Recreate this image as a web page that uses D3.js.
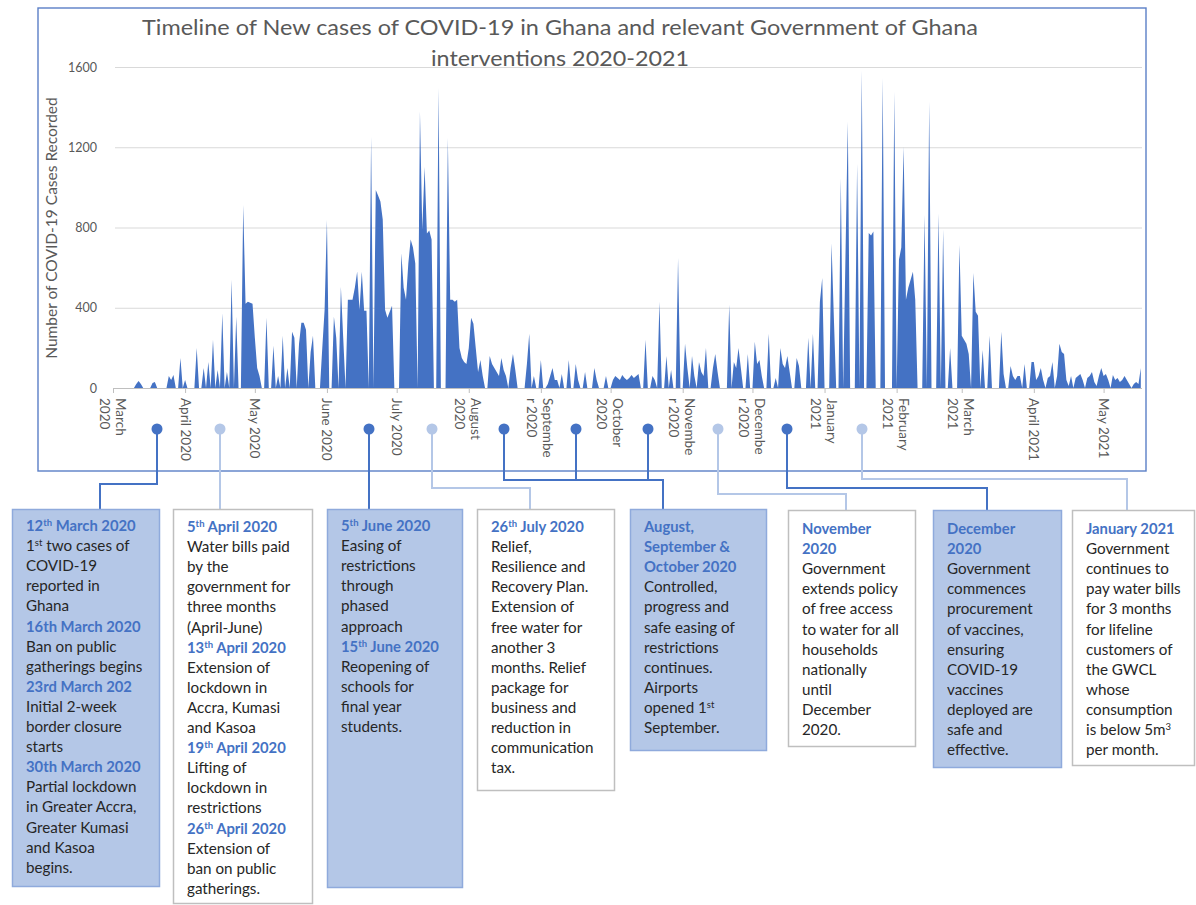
<!DOCTYPE html>
<html><head><meta charset="utf-8">
<script src="https://cdn.jsdelivr.net/npm/d3@7"></script>
<style>
body{margin:0;background:#fff}
svg{display:block;font-family:Lato,"Open Sans",sans-serif}
</style>
</head><body>
<svg id="c" width="1196" height="905"></svg>
<script>
// ---------------- DATA ----------------
const startDate = "2020-03-01";
const cases_2020_03 = [0,0,0,0,0,0,0,0,0,0,20,35,20,0,0,0,0,25,30,0,0,0,0,0,60,40,65,0,0,150,0];
const cases_2020_04 = [40,0,0,0,0,200,0,0,100,0,130,0,240,0,90,0,373,0,80,0,540,0,355,0,0,912,420,430,425,420];
const cases_2020_05 = [250,100,60,0,0,350,0,0,210,0,60,0,260,0,100,0,280,250,0,220,325,325,290,0,180,260,0,0,0,200,390];
const cases_2020_06 = [838,0,0,355,250,0,505,250,0,440,440,440,500,580,390,580,385,385,0,1252,0,987,960,930,840,390,350,380,410,0];
const cases_2020_07 = [0,0,672,500,440,620,740,700,620,0,1378,790,1102,770,785,740,0,0,1495,0,0,0,1246,440,440,430,440,200,150,130,120];
const cases_2020_08 = [200,350,320,200,80,140,60,0,0,160,120,100,80,60,150,90,60,0,100,170,90,0,0,0,0,120,270,0,60,0,0];
const cases_2020_09 = [140,0,0,20,60,100,40,40,0,70,0,0,140,0,0,120,40,0,0,80,0,0,0,100,40,0,0,0,60,0];
const cases_2020_10 = [0,40,60,50,40,65,50,40,50,65,50,60,70,0,0,240,0,0,60,40,0,430,0,0,160,0,90,0,0,648,0];
const cases_2020_11 = [0,220,100,0,160,60,0,130,80,60,200,0,0,100,170,80,0,0,0,0,415,0,130,100,200,100,0,0,170,0];
const cases_2020_12 = [0,230,120,140,60,0,0,270,0,0,50,0,200,120,100,160,80,0,0,150,110,0,0,0,250,0,270,0,0,430,548];
const cases_2021_01 = [0,0,0,722,350,0,0,1045,0,660,1327,0,0,0,1118,0,1582,0,0,773,760,780,0,0,0,1545,0,0,0,0,1477];
const cases_2021_02 = [0,640,700,1203,440,500,540,580,440,0,0,0,862,0,1427,0,0,0,870,0,790,0,0,200,0,0,0,713];
const cases_2021_03 = [260,240,220,170,0,573,380,360,0,190,0,0,260,0,0,0,0,280,70,0,0,110,60,40,60,60,0,120,0,0,130];
const cases_2021_04 = [130,40,60,100,40,0,50,60,130,0,60,220,180,170,40,10,60,0,50,60,70,40,0,50,60,80,30,10,60,100];
const cases_2021_05 = [60,70,40,0,65,40,50,30,40,60,40,20,0,20,30,20,100];

const monthLabels = [["March","2020"],["April 2020"],["May 2020"],["June 2020"],["July 2020"],
  ["August","2020"],["Septembe","r 2020"],["October","2020"],["Novembe","r 2020"],["Decembe","r 2020"],
  ["January","2021"],["February","2021"],["March","2021"],["April 2021"],["May 2021"]];
const yTicks = [0,400,800,1200,1600];
const titleLines = ["Timeline of New cases of COVID-19 in Ghana and relevant Government of Ghana","interventions 2020-2021"];
const yTitle = "Number of COVID-19 Cases Recorded";

// event markers (date on timeline, tone, box index)
const markerDates = ["2020-03-20","2020-04-16","2020-06-19","2020-07-16","2020-08-16","2020-09-16","2020-10-17","2020-11-16","2020-12-16","2021-01-17"];
const markerTone  = ["dark","light","dark","light","dark","dark","dark","light","dark","light"];
const markerBox   = [0,1,2,3,4,4,4,5,6,7];

// box texts ("#" = heading, ^x^ = superscript)
const box1 = ["#12^th^ March 2020","1^st^ two cases of","COVID-19","reported in","Ghana","#16th March 2020","Ban on public","gatherings begins","#23rd March 202","Initial 2-week","border closure","starts","#30th March 2020","Partial lockdown","in Greater Accra,","Greater Kumasi","and Kasoa","begins."];
const box2 = ["#5^th^ April 2020","Water bills paid","by the","government for","three months","(April-June)","#13^th^ April 2020","Extension of","lockdown in","Accra, Kumasi","and Kasoa","#19^th^ April 2020","Lifting of","lockdown in","restrictions","#26^th^ April 2020","Extension of","ban on public","gatherings."];
const box3 = ["#5^th^ June 2020","Easing of","restrictions","through","phased","approach","#15^th^ June 2020","Reopening of","schools for","final year","students."];
const box4 = ["#26^th^ July 2020","Relief,","Resilience and","Recovery Plan.","Extension of","free water for","another 3","months. Relief","package for","business and","reduction in","communication","tax."];
const box5 = ["#August,","#September &","#October 2020","Controlled,","progress and","safe easing of","restrictions","continues.","Airports","opened 1^st^","September."];
const box6 = ["#November","#2020","Government","extends policy","of free access","to water for all","households","nationally","until","December","2020."];
const box7 = ["#December","#2020","Government","commences","procurement","of vaccines,","ensuring","COVID-19","vaccines","deployed are","safe and","effective."];
const box8 = ["#January 2021","Government","continues to","pay water bills","for 3 months","for lifeline","customers of","the GWCL","whose","consumption","is below 5m^3^","per month."];

// ---------------- LAYOUT ----------------
const boxLayout = [
  {x:12,  y:509, w:147, h:377, tone:"dark",  text:box1, ty:531},
  {x:173, y:509, w:139, h:394, tone:"light", text:box2, ty:532},
  {x:327, y:509, w:135, h:378, tone:"dark",  text:box3, ty:531},
  {x:477, y:509, w:137, h:281, tone:"light", text:box4, ty:532},
  {x:630, y:509, w:136, h:241, tone:"dark",  text:box5, ty:532},
  {x:788, y:510, w:127, h:236, tone:"light", text:box6, ty:534},
  {x:933, y:510, w:128, h:257, tone:"dark",  text:box7, ty:534},
  {x:1072,y:510, w:122, h:255, tone:"light", text:box8, ty:534}
];
const boxEntry = [{x:100,ey:484},{x:null},{x:null},{x:530,ey:488},{x:663,ey:480},{x:846,ey:494},{x:987,ey:488},{x:1127,ey:479}];

const C = {blue:"#4472C4", light:"#b4c7e7", boxBlue:"#b4c7e7", boxBlueStroke:"#8faadc", boxWhiteStroke:"#bfbfbf",
           grid:"#d9d9d9", axisText:"#595959", head:"#4472C4", body:"#262626", frame:"#5b7fc7"};

const svg = d3.select("#c");
svg.append("rect").attr("width",1196).attr("height",905).attr("fill","#fff");

const parse = d3.utcParse("%Y-%m-%d");
const start = parse(startDate);
const allCases = [].concat(cases_2020_03,cases_2020_04,cases_2020_05,cases_2020_06,cases_2020_07,cases_2020_08,
  cases_2020_09,cases_2020_10,cases_2020_11,cases_2020_12,cases_2021_01,cases_2021_02,cases_2021_03,cases_2021_04,cases_2021_05);
const data = allCases.map((v,i)=>({date:d3.utcDay.offset(start,i), v}));

const x = d3.scaleUtc().domain([start, data[data.length-1].date]).range([113, 1140.8]);
const y = d3.scaleLinear().domain([0,1600]).range([388, 67]);

// frame
svg.append("rect").attr("x",38).attr("y",8).attr("width",1108).attr("height",463)
  .attr("fill","none").attr("stroke",C.frame).attr("stroke-width",1.4);

// title
titleLines.forEach((t,i)=>{
  svg.append("text").attr("x",560).attr("y",i===0?35:66).attr("text-anchor","middle")
    .attr("font-size",21).attr("fill",C.axisText)
    .attr("textLength", i===0?836:258).attr("lengthAdjust","spacingAndGlyphs").text(t);
});

// grid + y labels
const yAxis = d3.axisLeft(y).tickValues(yTicks).tickSize(-(1142-115)).tickPadding(18).tickFormat(d3.format("d"));
const gy = svg.append("g").attr("transform","translate(115,0)").call(yAxis);
gy.select(".domain").remove();
gy.selectAll(".tick line").attr("stroke",C.grid).attr("stroke-width",1.2);
gy.selectAll(".tick text").attr("fill",C.axisText).attr("font-size",12.5).attr("font-family","Lato,sans-serif");

svg.append("text").attr("transform","translate(57,228) rotate(-90)").attr("text-anchor","middle")
  .attr("font-size",15.5).attr("fill",C.axisText).text(yTitle);

// area
const area = d3.area().x(d=>x(d.date)).y0(y(0)).y1(d=>y(d.v));
svg.append("path").datum(data).attr("d",area).attr("fill",C.blue);

// x axis
const months = d3.utcMonth.range(start, d3.utcMonth.offset(start, monthLabels.length));
const xAxis = d3.axisBottom(x).tickValues(months).tickSize(5).tickFormat("");
const gx = svg.append("g").attr("transform","translate(0,388)").call(xAxis);
gx.select(".domain").attr("stroke","#bfbfbf").attr("d","M113,0.5H1142");
gx.selectAll(".tick line").attr("stroke","#bfbfbf");

monthLabels.forEach((lines,i)=>{
  const g = svg.append("g").attr("transform",`translate(${x(months[i])},398) rotate(90)`);
  const base = lines.length===1 ? [4.5] : [-2.5, 13.5];
  lines.forEach((t,j)=> g.append("text").attr("x",0).attr("y",base[j])
    .attr("font-size",13.5).attr("fill",C.axisText).text(t));
});

// connectors
const dotY = 429;
markerDates.forEach((ds,i)=>{
  const mx = Math.round(x(parse(ds)));
  const b = boxLayout[markerBox[i]];
  const e = boxEntry[markerBox[i]];
  const col = markerTone[i]==="dark" ? C.blue : C.light;
  let p;
  if(e.x===null) p = `M${mx},${dotY}V${b.y}`;
  else p = `M${mx},${dotY}V${e.ey}H${e.x}V${b.y}`;
  svg.append("path").attr("d",p).attr("fill","none").attr("stroke",col).attr("stroke-width",2);
});
markerDates.forEach((ds,i)=>{
  const mx = Math.round(x(parse(ds)));
  svg.append("circle").attr("cx",mx).attr("cy",dotY).attr("r",5.5)
    .attr("fill", markerTone[i]==="dark" ? C.blue : C.light);
});

// boxes
function addLine(el, str){
  const parts = str.split("^");
  let raised = false;
  parts.forEach((p,k)=>{
    if(!p) return;
    if(k%2===1){ el.append("tspan").attr("dy",-5).attr("font-size",9.5).text(p); raised=true; }
    else { const t = el.append("tspan").text(p); if(raised){ t.attr("dy",5); raised=false; } }
  });
}
boxLayout.forEach(b=>{
  svg.append("rect").attr("x",b.x+0.5).attr("y",b.y+0.5).attr("width",b.w).attr("height",b.h)
    .attr("fill", b.tone==="dark"?C.boxBlue:"#fff")
    .attr("stroke", b.tone==="dark"?C.boxBlueStroke:C.boxWhiteStroke).attr("stroke-width",1.5);
  b.text.forEach((ln,j)=>{
    const head = ln[0]==="#";
    const t = svg.append("text").attr("x",b.x+14).attr("y",b.ty+j*20.1)
      .attr("font-size",head?14.8:15.2).attr("fill", head?C.head:C.body).attr("font-weight", head?700:400);
    addLine(t, head?ln.slice(1):ln);
  });
});
</script>
</body></html>
